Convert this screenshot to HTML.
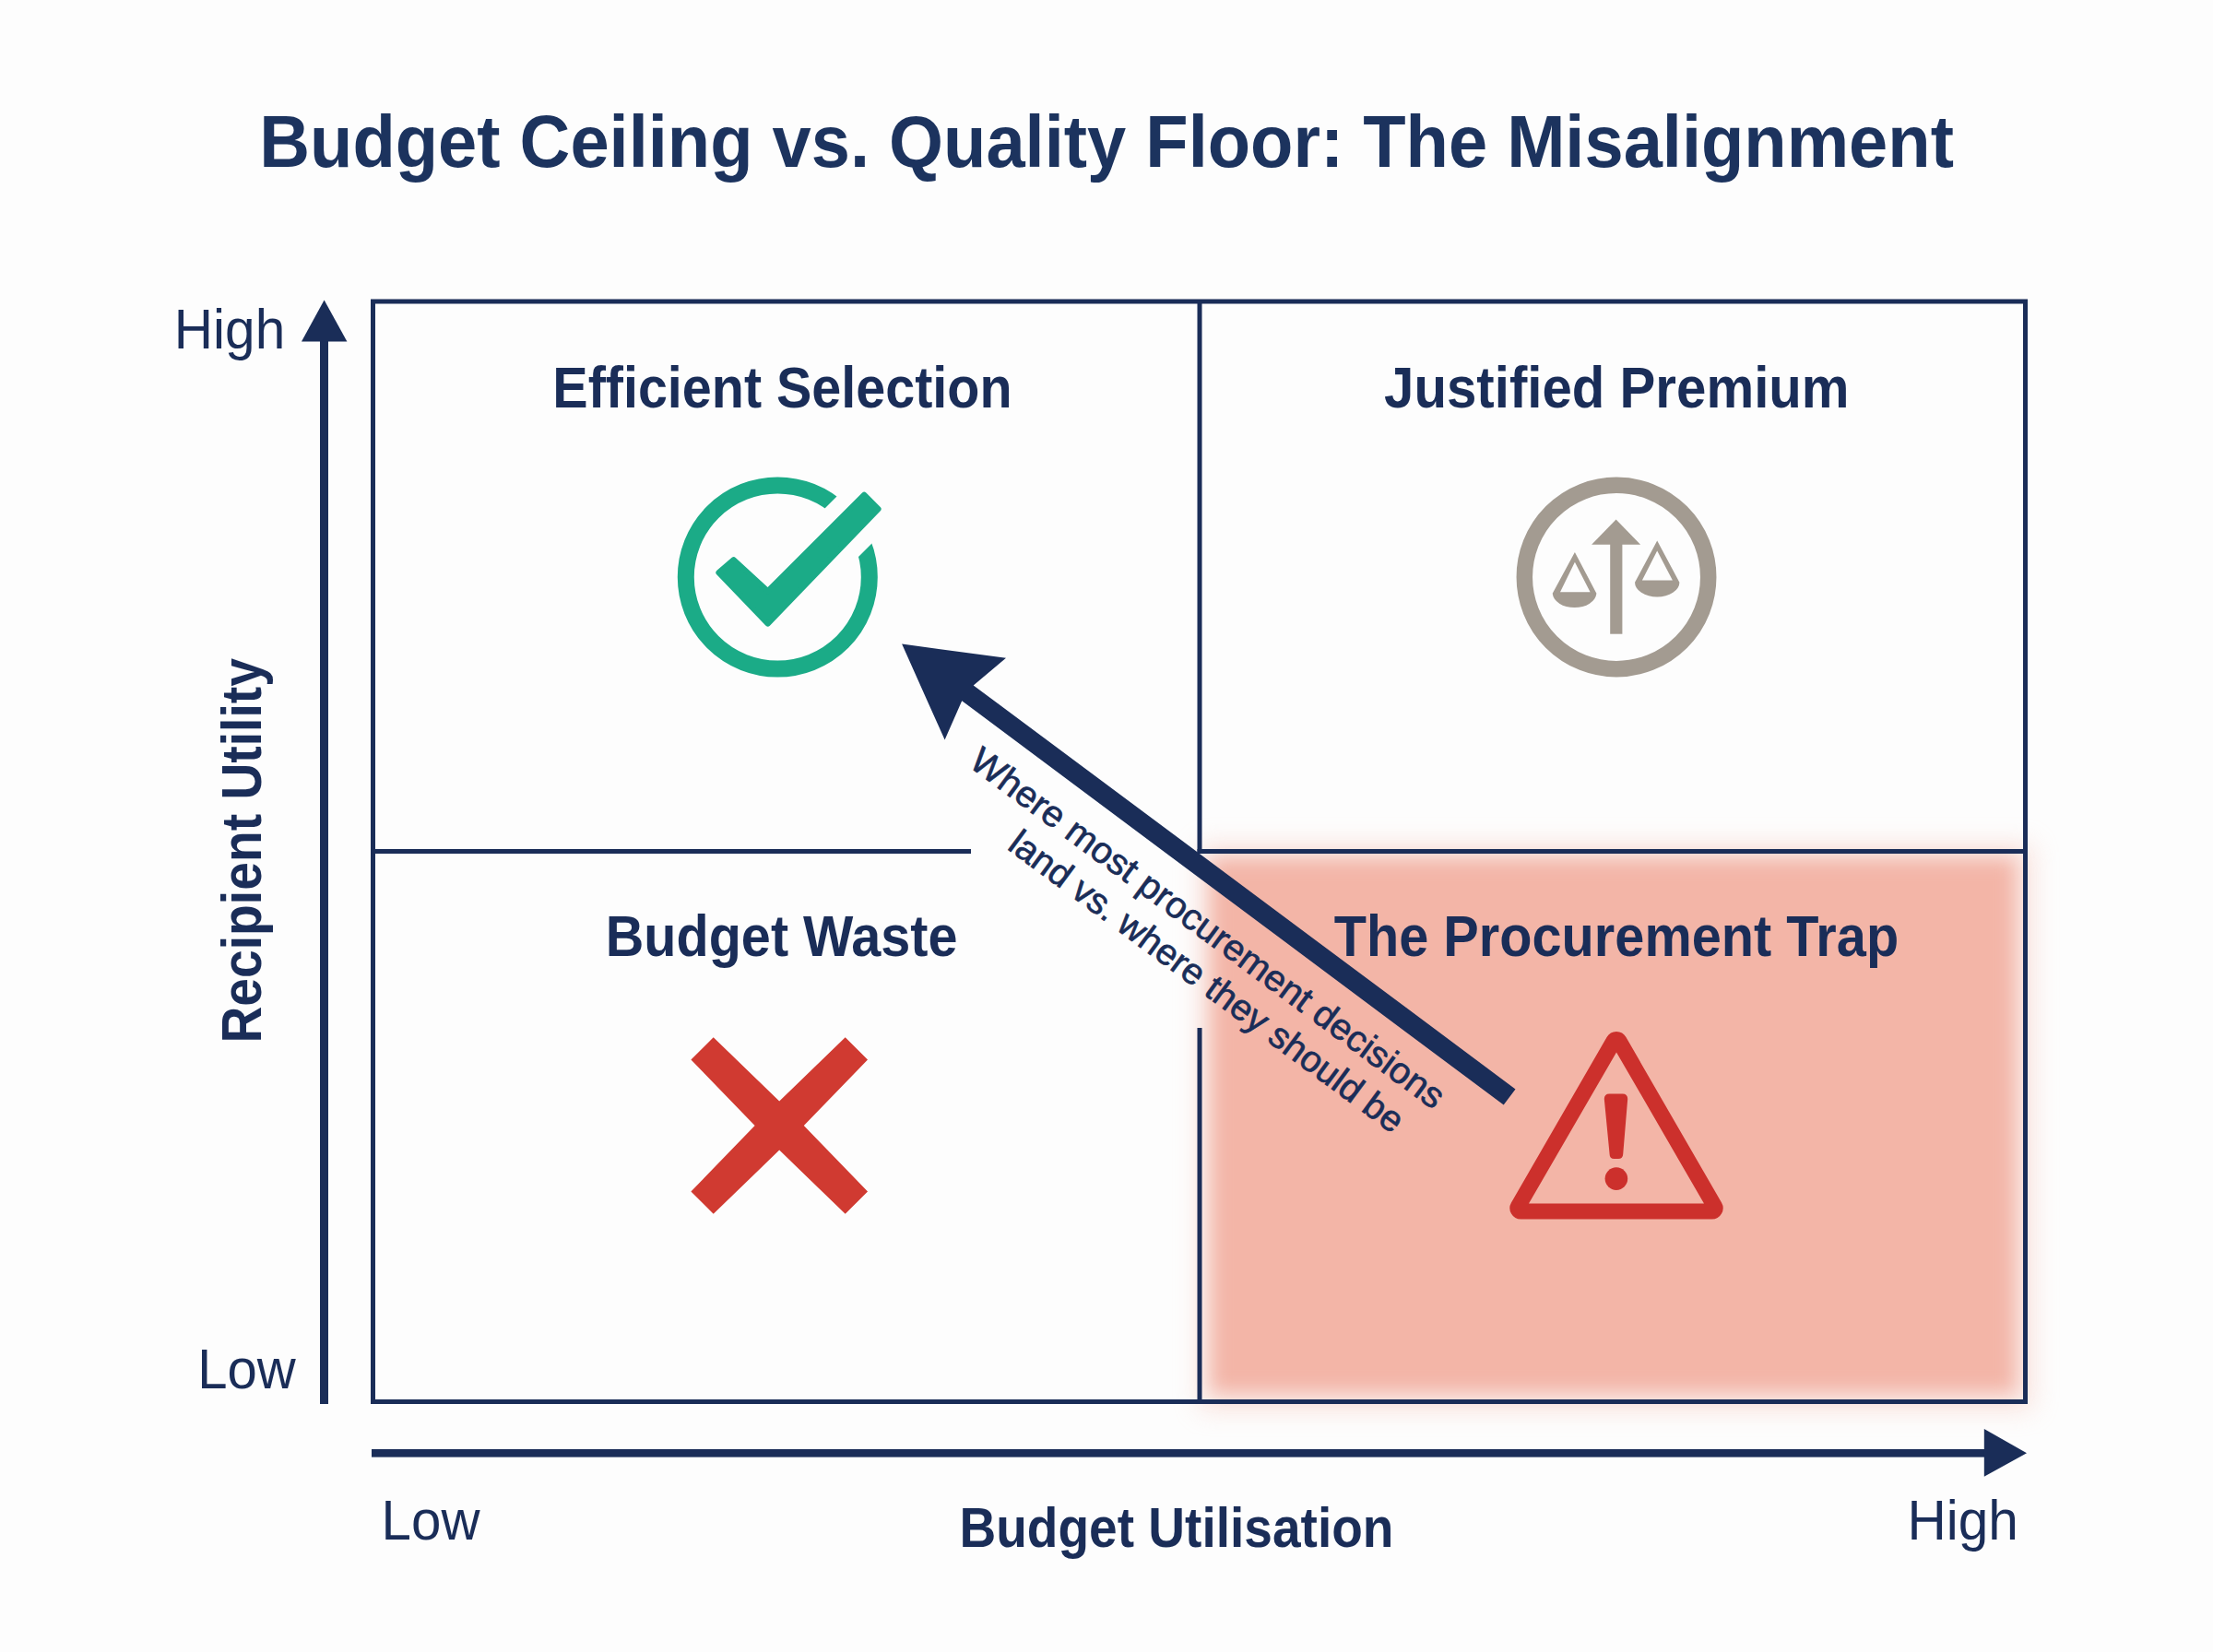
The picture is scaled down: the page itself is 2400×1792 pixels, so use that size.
<!DOCTYPE html>
<html><head><meta charset="utf-8">
<style>
html,body{margin:0;padding:0;background:#fdfdfd;}
body{width:2400px;height:1792px;overflow:hidden;position:relative;}
svg{position:absolute;left:0;top:0;}
text{font-family:"Liberation Sans", sans-serif;fill:#1a2d58;}
</style></head><body>
<svg width="2400" height="1792" viewBox="0 0 2400 1792">
<defs>
<filter id="blur" x="-10%" y="-10%" width="120%" height="120%"><feGaussianBlur stdDeviation="10"/></filter>
<filter id="blur2" x="-20%" y="-20%" width="140%" height="140%"><feGaussianBlur stdDeviation="14"/></filter>
</defs>
<rect x="0" y="0" width="2400" height="1792" fill="#fdfdfd"/>
<text x="281.3" y="181" font-size="80" font-weight="bold" textLength="1837.6" lengthAdjust="spacingAndGlyphs" style="fill:#1c335e">Budget Ceiling vs. Quality Floor: The Misalignment</text>
<rect x="1300" y="915" width="905" height="615" fill="#f3b5a7" opacity="0.35" filter="url(#blur2)"/>
<rect x="1314" y="932" width="871" height="578" fill="#f3b5a7" filter="url(#blur)"/>
<rect x="404.5" y="327" width="1792" height="1193.5" fill="none" stroke="#1a2d58" stroke-width="5"/>
<line x1="1301" y1="327" x2="1301" y2="926" stroke="#1a2d58" stroke-width="5"/>
<line x1="1301" y1="1115" x2="1301" y2="1520" stroke="#1a2d58" stroke-width="5"/>
<line x1="404.5" y1="923.5" x2="1053" y2="923.5" stroke="#1a2d58" stroke-width="5"/>
<line x1="1298.5" y1="923.5" x2="2196.5" y2="923.5" stroke="#1a2d58" stroke-width="5"/>
<rect x="347" y="365" width="9" height="1158" fill="#1a2d58"/>
<polygon points="351.6,325.5 376.4,370.5 327,370.5" fill="#1a2d58"/>
<rect x="403" y="1572" width="1754" height="8.6" fill="#1a2d58"/>
<polygon points="2198,1576.3 2151.8,1550 2151.8,1601.8" fill="#1a2d58"/>
<text x="188.8" y="378" font-size="61" textLength="120.5" lengthAdjust="spacingAndGlyphs">High</text>
<text x="214.2" y="1506" font-size="61" textLength="106.5" lengthAdjust="spacingAndGlyphs">Low</text>
<text x="413.6" y="1669.6" font-size="61" textLength="106.9" lengthAdjust="spacingAndGlyphs">Low</text>
<text x="2068.4" y="1669.6" font-size="61" textLength="120.6" lengthAdjust="spacingAndGlyphs">High</text>
<text x="1040.4" y="1677.6" font-size="61" font-weight="bold" textLength="471.1" lengthAdjust="spacingAndGlyphs">Budget Utilisation</text>
<text transform="translate(282.7,1128) rotate(-90)" x="-3.6" y="0" font-size="61" font-weight="bold" textLength="417.5" lengthAdjust="spacingAndGlyphs">Recipient Utility</text>
<text x="599.3" y="442.3" font-size="62.5" font-weight="bold" textLength="498.2" lengthAdjust="spacingAndGlyphs">Efficient Selection</text>
<text x="1501.1" y="442.1" font-size="62.5" font-weight="bold" textLength="504.5" lengthAdjust="spacingAndGlyphs">Justified Premium</text>
<text x="656.8" y="1037" font-size="62.5" font-weight="bold" textLength="381.7" lengthAdjust="spacingAndGlyphs">Budget Waste</text>
<text x="1446.7" y="1037.3" font-size="62.5" font-weight="bold" textLength="612.5" lengthAdjust="spacingAndGlyphs">The Procurement Trap</text>
<circle cx="843.3" cy="626" r="99.5" fill="none" stroke="#1bab87" stroke-width="18"/>
<polygon points="848,598 958,488 1002.5,532.5 892.5,642.5" fill="#fdfdfd"/>
<polygon points="779.4,621.1 795.7,607.1 832.7,641.2 937.2,536.7 952.6,552.2 832.7,676.6" fill="#1bab87" stroke="#1bab87" stroke-width="6" stroke-linejoin="round"/>
<circle cx="1753" cy="626" r="99.7" fill="none" stroke="#a39b91" stroke-width="17.5"/>
<polygon points="1752.6,563.6 1779.1,590.8 1726.1,590.8" fill="#a39b91"/>
<rect x="1746.2" y="589" width="13.2" height="98.7" fill="#a39b91"/>
<path fill-rule="evenodd" d="M1707.9,599.1 L1731.4,643.8 A23.9,16.3 0 0 1 1683.7,643.8 Z M1707.9,609.7 L1724.6,642.3 L1692,642.3 Z" fill="#a39b91"/>
<path fill-rule="evenodd" d="M1797.2,586.6 L1821.4,631.7 A24.2,15.8 0 0 1 1773,631.7 Z M1797.2,597.6 L1813.9,629.4 L1780.9,629.4 Z" fill="#a39b91"/>
<polygon transform="translate(845.2,1221.0) rotate(45)" fill="#d03a31" points="118.3,-17.2 118.3,17.2 18.8,18.8 17.2,118.3 -17.2,118.3 -18.8,18.8 -118.3,17.2 -118.3,-17.2 -18.8,-18.8 -17.2,-118.3 17.2,-118.3 18.8,-18.8"/>
<path fill-rule="evenodd" d="M1763.4,1125.1 L1867.0,1304.5 A12,12 0 0 1 1856.6,1322.5 L1649.4,1322.5 A12,12 0 0 1 1639.0,1304.5 L1742.6,1125.1 A12,12 0 0 1 1763.4,1125.1 Z M1753,1141.4 L1658,1305.5 L1848,1305.5 Z" fill="#cc302c"/>
<path d="M1739.8,1192 Q1739.8,1186.4 1745.4,1186.4 L1759.6,1186.4 Q1765.2,1186.4 1765.2,1192 L1760.2,1252 Q1760,1257 1755,1257 L1750.6,1257 Q1745.6,1257 1745.6,1252 Z" fill="#cc302c"/>
<circle cx="1752.9" cy="1278.6" r="12.3" fill="#cc302c"/>
<polygon points="978.1,698.6 1091.0,713.7 1055.7,743.4 1643.5,1181.4 1630.7,1198.5 1043.2,760.2 1024.6,802.6" fill="#1a2d58"/>
<g transform="rotate(36.5)">
<text x="1337.5" y="43.5" font-size="39.5" textLength="628.6" lengthAdjust="spacingAndGlyphs" stroke="#1a2d58" stroke-width="0.7">Where most procurement decisions</text>
<text x="1424.5" y="90.7" font-size="39.5" textLength="521.5" lengthAdjust="spacingAndGlyphs" stroke="#1a2d58" stroke-width="0.7">land vs. where they should be</text>
</g>
</svg>
</body></html>
